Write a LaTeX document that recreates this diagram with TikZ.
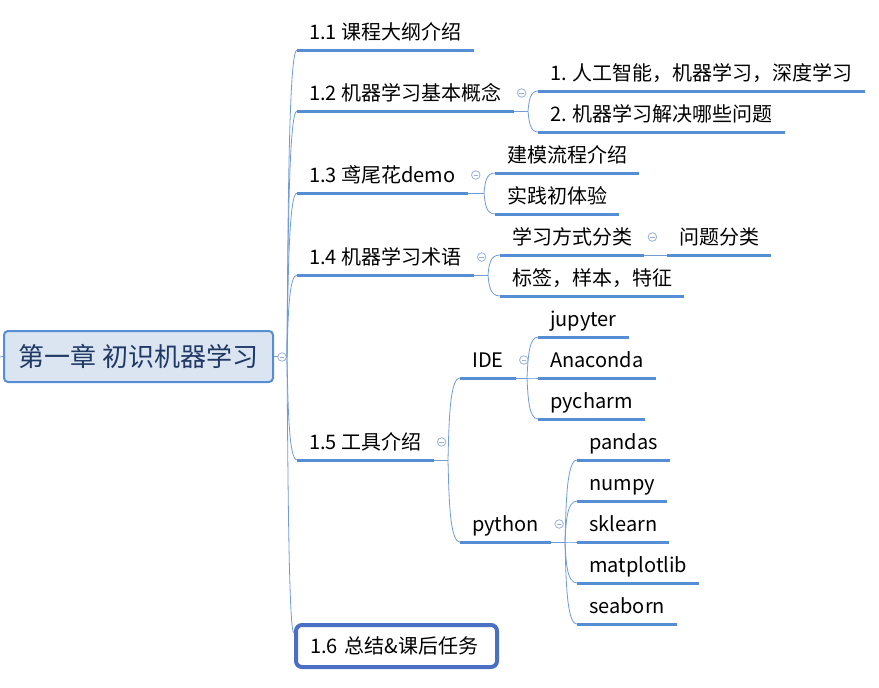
\documentclass[tikz,border=0pt]{standalone}
\usepackage{fontspec}
\setmainfont{Noto Sans CJK SC}
\usetikzlibrary{calc}
\definecolor{lineblue}{HTML}{558ED5}
\definecolor{connblue}{HTML}{6F9BD9}
\definecolor{foldgray}{HTML}{9AAFD6}
\definecolor{rootfill}{HTML}{DBE5F1}
\definecolor{rootink}{HTML}{1F3864}
\definecolor{boxblue}{HTML}{4A6FC4}
\tikzset{
  topic/.style={anchor=south west, inner xsep=12pt, inner ysep=5pt, text height=15pt, text depth=5pt, font=\fontsize{20}{24}\selectfont, text=black},
  rootbox/.style={draw=lineblue, fill=rootfill, line width=2pt, rounded corners=4pt, minimum width=269pt, minimum height=51pt, font=\fontsize{26}{30}\selectfont, text=rootink},
  lastbox/.style={anchor=west, draw=boxblue, fill=white, line width=4pt, rounded corners=6pt, minimum height=42pt, text width=173pt, inner xsep=14pt, align=left, font=\fontsize{20}{24}\selectfont, text=black},
  uline/.style={line width=3pt, color=lineblue},
  conn/.style={line width=0.8pt, color=connblue},
  fold/.style={circle, draw=foldgray, fill=white, line width=0.8pt, minimum size=8.5pt, inner sep=0pt,
    path picture={\draw[foldgray, line width=0.8pt] ([xshift=-2.2pt]path picture bounding box.center) -- ([xshift=2.2pt]path picture bounding box.center);}}
}
\newcommand\branch[2]{\draw[conn] let \p1=(#1), \p2=(#2) in (\p1) .. controls (\x1+1pt,{0.5*(\y1+\y2)}) and (\x1+2pt,\y2) .. (\p2);}

\begin{document}
\begin{tikzpicture}[x=1pt,y=-1pt]
  \useasboundingbox (0,0) rectangle (879,688);

  % root
  \coordinate (in) at (0,357);
  \coordinate (k0) at (287,357);
  \node[rootbox] (root) at (138.5,356.5) {第一章 初识机器学习};
  \draw[conn] (in) -- (root.west);
  \draw[conn] (root.east) -- (k0);

  % chapter sections
  \node[topic] (t11) at (297,50) {1.1 课程大纲介绍};
  \node[topic] (t12) at (297,111) {1.2 机器学习基本概念};
  \node[topic] (t13) at (297,193) {1.3 鸢尾花demo};
  \node[topic] (t14) at (297,275) {1.4 机器学习术语};
  \node[topic] (t15) at (297,460) {1.5 工具介绍};
  \node[lastbox] (t16) at (294,646) {1.6 总结\&课后任务};
  \coordinate (e16) at ([yshift=-10pt]t16.north west);

  % 1.2
  \coordinate (k12) at (528,111);
  \node[topic] (t121) at (538,91) {1. 人工智能，机器学习，深度学习};
  \node[topic] (t122) at (538,132) {2. 机器学习解决哪些问题};

  % 1.3
  \coordinate (k13) at (484,193);
  \node[topic] (t131) at (495,173) {建模流程介绍};
  \node[topic] (t132) at (495,214) {实践初体验};

  % 1.4
  \coordinate (k14) at (488,275);
  \node[topic] (t141) at (500,255) {学习方式分类};
  \node[topic] (t142) at (500,296) {标签，样本，特征};
  \node[topic] (t1411) at (667,255) {问题分类};

  % 1.5
  \coordinate (k15) at (448,460);
  \node[topic] (t151) at (460,378) {IDE};
  \node[topic] (t152) at (460,542) {python};

  \coordinate (k151) at (527,378);
  \node[topic] (t1511) at (538,337) {jupyter};
  \node[topic] (t1512) at (538,378) {Anaconda};
  \node[topic] (t1513) at (538,419) {pycharm};

  \coordinate (k152) at (565,542);
  \node[topic] (t1521) at (577,460) {pandas};
  \node[topic] (t1522) at (577,501) {numpy};
  \node[topic] (t1523) at (577,542) {sklearn};
  \node[topic] (t1524) at (577,583) {matplotlib};
  \node[topic] (t1525) at (577,624) {seaborn};

  % underlines
  \foreach \nd in {t11,t12,t13,t14,t15,t121,t122,t131,t132,t141,t142,t1411,t151,t152,t1511,t1512,t1513,t1521,t1522,t1523,t1524,t1525}
    \draw[uline] (\nd.south west) -- (\nd.south east);

  % connectors
  \foreach \nd in {t11,t12,t13,t14,t15}
    {\branch{k0}{\nd.south west}}
  \branch{k0}{e16}

  \draw[conn] (t12.south east) -- (k12);
  \branch{k12}{t121.south west}
  \branch{k12}{t122.south west}

  \draw[conn] (t13.south east) -- (k13);
  \branch{k13}{t131.south west}
  \branch{k13}{t132.south west}

  \draw[conn] (t14.south east) -- (k14);
  \branch{k14}{t141.south west}
  \branch{k14}{t142.south west}
  \draw[conn] (t141.south east) -- (t1411.south west);

  \draw[conn] (t15.south east) -- (k15);
  \branch{k15}{t151.south west}
  \branch{k15}{t152.south west}

  \draw[conn] (t151.south east) -- (k151);
  \foreach \nd in {t1511,t1512,t1513}
    {\branch{k151}{\nd.south west}}

  \draw[conn] (t152.south east) -- (k152);
  \foreach \nd in {t1521,t1522,t1523,t1524,t1525}
    {\branch{k152}{\nd.south west}}

  % fold marks
  \node[fold] (f0) at (282,357) {};
  \foreach \nd in {t12,t13,t14,t15,t141,t151,t152}
    \node[fold] (f\nd) at ([xshift=8pt,yshift=18pt]\nd.south east) {};
\end{tikzpicture}
\end{document}
